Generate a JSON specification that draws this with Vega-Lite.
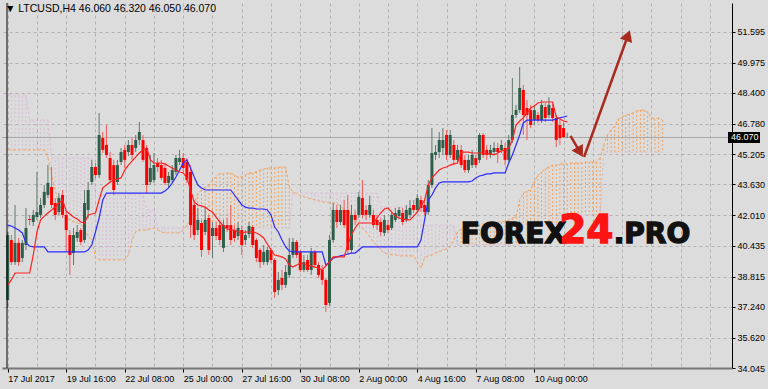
{
"$schema":"https://vega.github.io/schema/vega-lite/v6.json",
"width":730,"height":365,
"autosize":{"type":"none"},
"padding":{"left":2,"top":3,"right":36,"bottom":21},
"background":"#dcdcdc",
"config":{"view":{"stroke":null},"font":"Liberation Sans","axis":{"labelFont":"Liberation Sans"}},
"title":{"text":"▼ LTCUSD,H4 46.060 46.320 46.050 46.070","anchor":"start","frame":"group","offset":-12,"fontSize":10.5,"fontWeight":"normal","color":"#000","dx":3,"font":"Liberation Sans"},
"datasets":{"one":[{}],"bars":[
{"t":0,"o":37.59,"h":41.14,"l":37.17,"c":40.98,"tk":38.38,"kj":41.50,"a":45.42,"b":48.29},
{"t":1,"o":40.72,"h":40.98,"l":39.42,"c":39.57,"tk":38.64,"kj":41.45,"a":45.42,"b":48.29},
{"t":2,"o":39.57,"h":42.55,"l":39.42,"c":40.57,"tk":39.00,"kj":41.35,"a":45.42,"b":48.29},
{"t":3,"o":40.57,"h":40.83,"l":39.37,"c":39.57,"tk":39.00,"kj":41.24,"a":45.42,"b":48.29},
{"t":4,"o":39.78,"h":40.72,"l":39.57,"c":40.57,"tk":39.00,"kj":41.09,"a":45.42,"b":48.29},
{"t":5,"o":40.46,"h":42.39,"l":40.20,"c":41.35,"tk":39.00,"kj":40.57,"a":45.42,"b":48.29},
{"t":6,"o":41.82,"h":42.03,"l":41.50,"c":41.77,"tk":39.00,"kj":40.41,"a":45.42,"b":46.98},
{"t":7,"o":41.66,"h":42.29,"l":41.45,"c":42.03,"tk":39.94,"kj":40.36,"a":45.42,"b":46.98},
{"t":8,"o":41.92,"h":44.27,"l":41.77,"c":42.18,"tk":41.14,"kj":40.36,"a":45.42,"b":46.98},
{"t":9,"o":42.03,"h":42.91,"l":41.87,"c":42.55,"tk":41.77,"kj":40.36,"a":45.42,"b":46.98},
{"t":10,"o":42.55,"h":43.59,"l":42.39,"c":43.23,"tk":41.97,"kj":40.36,"a":45.42,"b":46.98},
{"t":11,"o":43.07,"h":44.63,"l":42.91,"c":43.70,"tk":42.13,"kj":40.10,"a":45.00,"b":46.98},
{"t":12,"o":43.49,"h":44.53,"l":42.39,"c":42.55,"tk":42.29,"kj":40.10,"a":44.11,"b":45.00},
{"t":13,"o":42.65,"h":42.91,"l":41.77,"c":42.03,"tk":42.44,"kj":40.10,"a":43.33,"b":45.00},
{"t":14,"o":42.18,"h":43.17,"l":42.03,"c":42.91,"tk":42.65,"kj":40.10,"a":42.55,"b":45.00},
{"t":15,"o":43.07,"h":43.33,"l":41.87,"c":42.03,"tk":42.81,"kj":40.10,"a":42.18,"b":45.00},
{"t":16,"o":42.03,"h":42.18,"l":40.10,"c":41.24,"tk":42.23,"kj":40.10,"a":41.92,"b":45.00},
{"t":17,"o":40.98,"h":41.24,"l":38.90,"c":39.94,"tk":42.08,"kj":40.10,"a":41.77,"b":45.00},
{"t":18,"o":40.04,"h":41.35,"l":39.42,"c":40.98,"tk":41.92,"kj":40.10,"a":41.66,"b":45.00},
{"t":19,"o":40.83,"h":41.50,"l":40.62,"c":41.14,"tk":41.82,"kj":40.10,"a":41.61,"b":45.00},
{"t":20,"o":41.24,"h":41.35,"l":40.46,"c":40.62,"tk":41.66,"kj":40.10,"a":41.56,"b":45.00},
{"t":21,"o":40.72,"h":43.33,"l":40.57,"c":42.65,"tk":41.61,"kj":40.10,"a":41.24,"b":45.00},
{"t":22,"o":42.29,"h":43.75,"l":41.87,"c":43.33,"tk":42.03,"kj":40.20,"a":40.93,"b":45.00},
{"t":23,"o":43.75,"h":44.90,"l":43.59,"c":44.53,"tk":42.08,"kj":40.46,"a":40.72,"b":45.00},
{"t":24,"o":44.53,"h":44.74,"l":43.96,"c":44.11,"tk":42.13,"kj":41.14,"a":39.78,"b":43.07},
{"t":25,"o":44.11,"h":47.35,"l":43.96,"c":46.20,"tk":42.81,"kj":41.87,"a":39.68,"b":43.07},
{"t":26,"o":46.04,"h":46.36,"l":45.26,"c":45.42,"tk":43.44,"kj":42.81,"a":39.68,"b":43.07},
{"t":27,"o":45.68,"h":46.72,"l":45.00,"c":45.16,"tk":43.59,"kj":43.17,"a":39.68,"b":43.07},
{"t":28,"o":45.00,"h":45.31,"l":43.70,"c":43.85,"tk":43.75,"kj":43.17,"a":39.68,"b":43.07},
{"t":29,"o":44.63,"h":44.90,"l":43.07,"c":43.33,"tk":43.85,"kj":43.17,"a":39.68,"b":43.07},
{"t":30,"o":43.75,"h":44.90,"l":43.59,"c":44.63,"tk":43.90,"kj":43.17,"a":39.68,"b":43.07},
{"t":31,"o":44.79,"h":45.52,"l":44.63,"c":45.31,"tk":43.96,"kj":43.17,"a":39.68,"b":43.07},
{"t":32,"o":45.42,"h":45.68,"l":44.48,"c":44.90,"tk":44.37,"kj":43.17,"a":39.68,"b":43.07},
{"t":33,"o":45.31,"h":45.94,"l":45.10,"c":45.68,"tk":44.63,"kj":43.17,"a":39.94,"b":43.07},
{"t":34,"o":45.68,"h":46.04,"l":44.90,"c":45.16,"tk":44.84,"kj":43.17,"a":40.72,"b":43.07},
{"t":35,"o":45.52,"h":46.20,"l":45.31,"c":45.94,"tk":45.05,"kj":43.17,"a":41.14,"b":43.07},
{"t":36,"o":45.94,"h":46.88,"l":45.68,"c":46.36,"tk":45.26,"kj":43.17,"a":41.24,"b":43.07},
{"t":37,"o":45.94,"h":46.20,"l":44.79,"c":44.90,"tk":45.42,"kj":43.17,"a":41.24,"b":43.07},
{"t":38,"o":45.52,"h":45.68,"l":43.17,"c":43.59,"tk":45.52,"kj":43.17,"a":41.24,"b":42.29},
{"t":39,"o":43.75,"h":45.16,"l":43.59,"c":44.48,"tk":44.90,"kj":43.17,"a":41.30,"b":42.29},
{"t":40,"o":43.85,"h":45.26,"l":43.70,"c":44.63,"tk":44.74,"kj":43.17,"a":41.35,"b":42.29},
{"t":41,"o":44.74,"h":45.00,"l":44.27,"c":44.53,"tk":44.74,"kj":43.17,"a":41.24,"b":41.35},
{"t":42,"o":44.63,"h":44.90,"l":43.85,"c":43.96,"tk":44.74,"kj":43.17,"a":41.14,"b":41.35},
{"t":43,"o":44.48,"h":44.74,"l":43.59,"c":43.70,"tk":44.69,"kj":43.28,"a":41.09,"b":41.35},
{"t":44,"o":43.70,"h":44.27,"l":43.44,"c":44.06,"tk":44.58,"kj":43.44,"a":41.09,"b":41.35},
{"t":45,"o":43.85,"h":44.63,"l":43.75,"c":44.37,"tk":44.48,"kj":43.70,"a":41.09,"b":41.35},
{"t":46,"o":44.27,"h":45.16,"l":44.11,"c":45.00,"tk":44.37,"kj":44.01,"a":41.09,"b":41.35},
{"t":47,"o":44.79,"h":45.42,"l":44.63,"c":45.00,"tk":44.27,"kj":44.37,"a":41.09,"b":41.35},
{"t":48,"o":45.00,"h":45.26,"l":44.27,"c":44.48,"tk":44.22,"kj":44.74,"a":41.24,"b":41.35},
{"t":49,"o":44.79,"h":45.00,"l":43.70,"c":43.85,"tk":43.96,"kj":44.90,"a":41.50,"b":41.35},
{"t":50,"o":44.27,"h":44.63,"l":40.83,"c":41.50,"tk":43.33,"kj":44.48,"a":41.77,"b":41.35},
{"t":51,"o":42.55,"h":42.81,"l":40.72,"c":40.98,"tk":42.70,"kj":44.01,"a":42.55,"b":41.35},
{"t":52,"o":41.24,"h":42.39,"l":40.98,"c":41.77,"tk":42.55,"kj":43.59,"a":43.17,"b":41.35},
{"t":53,"o":41.61,"h":41.77,"l":39.84,"c":40.20,"tk":42.50,"kj":43.44,"a":43.33,"b":41.35},
{"t":54,"o":41.14,"h":42.44,"l":40.98,"c":41.77,"tk":42.44,"kj":43.33,"a":43.49,"b":41.35},
{"t":55,"o":41.87,"h":42.03,"l":39.94,"c":40.20,"tk":42.29,"kj":43.33,"a":43.59,"b":41.35},
{"t":56,"o":40.93,"h":41.66,"l":39.78,"c":41.35,"tk":42.18,"kj":43.33,"a":43.85,"b":41.35},
{"t":57,"o":41.35,"h":41.66,"l":40.72,"c":40.93,"tk":41.92,"kj":43.33,"a":44.01,"b":41.35},
{"t":58,"o":41.50,"h":41.77,"l":40.46,"c":40.72,"tk":41.66,"kj":43.33,"a":44.22,"b":41.35},
{"t":59,"o":40.31,"h":41.77,"l":40.10,"c":41.50,"tk":41.45,"kj":43.33,"a":44.17,"b":41.35},
{"t":60,"o":41.50,"h":41.87,"l":41.14,"c":41.35,"tk":41.30,"kj":43.33,"a":44.22,"b":41.35},
{"t":61,"o":41.50,"h":42.55,"l":40.46,"c":40.72,"tk":41.24,"kj":43.33,"a":44.22,"b":41.35},
{"t":62,"o":41.24,"h":41.50,"l":40.62,"c":40.83,"tk":41.24,"kj":43.07,"a":44.11,"b":41.35},
{"t":63,"o":40.93,"h":41.66,"l":40.72,"c":41.35,"tk":41.14,"kj":42.81,"a":44.01,"b":41.35},
{"t":64,"o":41.24,"h":41.45,"l":39.94,"c":40.46,"tk":41.09,"kj":42.55,"a":44.01,"b":41.35},
{"t":65,"o":40.72,"h":41.24,"l":40.46,"c":40.98,"tk":41.14,"kj":42.44,"a":44.11,"b":41.35},
{"t":66,"o":41.03,"h":41.66,"l":40.83,"c":41.45,"tk":41.14,"kj":42.39,"a":44.22,"b":41.35},
{"t":67,"o":41.40,"h":41.50,"l":40.31,"c":40.46,"tk":41.14,"kj":42.39,"a":44.22,"b":41.35},
{"t":68,"o":40.72,"h":40.83,"l":39.57,"c":39.78,"tk":41.09,"kj":42.34,"a":44.27,"b":41.35},
{"t":69,"o":40.20,"h":40.31,"l":39.26,"c":39.57,"tk":40.98,"kj":42.34,"a":44.37,"b":41.35},
{"t":70,"o":39.57,"h":40.46,"l":39.42,"c":40.10,"tk":40.83,"kj":42.34,"a":44.43,"b":41.35},
{"t":71,"o":39.57,"h":40.36,"l":39.42,"c":40.20,"tk":40.51,"kj":42.29,"a":44.48,"b":41.35},
{"t":72,"o":40.20,"h":40.31,"l":39.52,"c":39.68,"tk":40.20,"kj":42.03,"a":44.48,"b":41.35},
{"t":73,"o":39.68,"h":39.78,"l":37.70,"c":38.01,"tk":39.94,"kj":41.40,"a":44.48,"b":41.35},
{"t":74,"o":38.11,"h":39.05,"l":37.85,"c":38.64,"tk":39.89,"kj":41.14,"a":44.53,"b":41.35},
{"t":75,"o":38.74,"h":39.16,"l":38.11,"c":38.38,"tk":39.84,"kj":40.72,"a":44.53,"b":41.35},
{"t":76,"o":38.38,"h":39.42,"l":38.22,"c":39.05,"tk":39.73,"kj":40.36,"a":44.53,"b":41.35},
{"t":77,"o":38.90,"h":40.83,"l":38.74,"c":39.94,"tk":39.42,"kj":40.15,"a":43.49,"b":41.35},
{"t":78,"o":39.94,"h":40.83,"l":39.78,"c":40.62,"tk":39.31,"kj":40.10,"a":43.23,"b":43.17},
{"t":79,"o":40.62,"h":40.72,"l":39.78,"c":39.94,"tk":39.42,"kj":40.10,"a":43.12,"b":43.17},
{"t":80,"o":40.10,"h":40.20,"l":39.05,"c":39.16,"tk":39.52,"kj":40.10,"a":43.02,"b":43.17},
{"t":81,"o":39.16,"h":39.94,"l":39.05,"c":39.57,"tk":39.47,"kj":40.10,"a":42.97,"b":43.17},
{"t":82,"o":39.68,"h":39.94,"l":39.05,"c":39.16,"tk":39.42,"kj":40.10,"a":42.91,"b":43.17},
{"t":83,"o":39.16,"h":40.31,"l":38.90,"c":40.10,"tk":39.37,"kj":40.10,"a":42.86,"b":43.17},
{"t":84,"o":40.10,"h":40.20,"l":39.26,"c":39.42,"tk":39.31,"kj":40.10,"a":42.81,"b":43.17},
{"t":85,"o":39.42,"h":39.57,"l":38.74,"c":38.90,"tk":39.26,"kj":40.10,"a":42.76,"b":43.17},
{"t":86,"o":39.16,"h":39.42,"l":38.38,"c":38.64,"tk":39.16,"kj":40.10,"a":42.70,"b":43.17},
{"t":87,"o":38.64,"h":38.74,"l":36.97,"c":37.33,"tk":39.37,"kj":39.42,"a":42.70,"b":43.17},
{"t":88,"o":37.44,"h":40.98,"l":37.28,"c":40.72,"tk":39.57,"kj":39.57,"a":42.65,"b":43.17},
{"t":89,"o":40.72,"h":42.65,"l":40.57,"c":42.29,"tk":39.84,"kj":39.78,"a":42.65,"b":43.17},
{"t":90,"o":42.29,"h":42.55,"l":41.35,"c":41.66,"tk":39.84,"kj":39.84,"a":42.60,"b":43.17},
{"t":91,"o":41.66,"h":42.55,"l":41.50,"c":42.29,"tk":39.84,"kj":39.89,"a":42.50,"b":43.17},
{"t":92,"o":42.29,"h":42.81,"l":41.35,"c":41.50,"tk":39.84,"kj":39.94,"a":42.29,"b":43.17},
{"t":93,"o":42.29,"h":43.07,"l":39.94,"c":40.20,"tk":40.46,"kj":39.99,"a":42.18,"b":43.17},
{"t":94,"o":40.20,"h":42.55,"l":40.04,"c":42.03,"tk":40.98,"kj":40.04,"a":42.08,"b":43.17},
{"t":95,"o":42.03,"h":42.29,"l":41.50,"c":41.77,"tk":41.35,"kj":40.04,"a":41.87,"b":43.17},
{"t":96,"o":42.03,"h":43.23,"l":41.87,"c":42.97,"tk":41.61,"kj":40.20,"a":41.50,"b":43.17},
{"t":97,"o":42.91,"h":43.85,"l":41.87,"c":42.03,"tk":41.61,"kj":40.36,"a":41.35,"b":43.17},
{"t":98,"o":42.29,"h":42.55,"l":41.77,"c":42.03,"tk":41.61,"kj":40.36,"a":41.14,"b":43.17},
{"t":99,"o":42.03,"h":43.02,"l":41.87,"c":42.55,"tk":41.61,"kj":40.36,"a":40.88,"b":43.17},
{"t":100,"o":42.03,"h":42.29,"l":41.35,"c":41.50,"tk":41.61,"kj":40.36,"a":40.62,"b":43.17},
{"t":101,"o":41.77,"h":42.03,"l":41.24,"c":41.50,"tk":41.87,"kj":40.36,"a":40.41,"b":43.17},
{"t":102,"o":41.66,"h":41.87,"l":40.93,"c":41.14,"tk":42.13,"kj":40.36,"a":40.20,"b":42.44},
{"t":103,"o":41.09,"h":42.03,"l":40.93,"c":41.77,"tk":42.34,"kj":40.36,"a":40.04,"b":42.44},
{"t":104,"o":41.50,"h":41.77,"l":41.09,"c":41.24,"tk":42.39,"kj":40.36,"a":39.99,"b":42.44},
{"t":105,"o":41.35,"h":42.18,"l":41.24,"c":42.03,"tk":42.18,"kj":40.36,"a":39.94,"b":42.44},
{"t":106,"o":41.77,"h":42.39,"l":41.66,"c":42.13,"tk":41.97,"kj":40.36,"a":39.94,"b":42.44},
{"t":107,"o":41.97,"h":42.44,"l":41.82,"c":42.29,"tk":41.87,"kj":40.36,"a":39.89,"b":42.44},
{"t":108,"o":42.13,"h":42.39,"l":41.50,"c":41.66,"tk":41.82,"kj":40.36,"a":39.89,"b":42.44},
{"t":109,"o":41.77,"h":42.55,"l":41.66,"c":42.29,"tk":41.77,"kj":40.36,"a":39.89,"b":42.44},
{"t":110,"o":42.03,"h":42.81,"l":41.87,"c":42.39,"tk":41.77,"kj":40.36,"a":39.89,"b":42.44},
{"t":111,"o":42.55,"h":42.81,"l":42.13,"c":42.29,"tk":41.97,"kj":40.36,"a":39.89,"b":42.44},
{"t":112,"o":42.29,"h":43.12,"l":42.13,"c":42.91,"tk":42.18,"kj":40.36,"a":39.57,"b":42.44},
{"t":113,"o":42.81,"h":43.02,"l":42.18,"c":42.39,"tk":42.50,"kj":40.72,"a":39.26,"b":41.50},
{"t":114,"o":42.55,"h":42.81,"l":42.03,"c":42.18,"tk":42.81,"kj":41.77,"a":39.78,"b":41.50},
{"t":115,"o":42.18,"h":43.85,"l":42.03,"c":43.59,"tk":43.59,"kj":42.81,"a":39.89,"b":41.50},
{"t":116,"o":43.59,"h":46.56,"l":43.44,"c":45.26,"tk":43.96,"kj":43.07,"a":39.94,"b":41.50},
{"t":117,"o":45.16,"h":45.68,"l":44.90,"c":45.31,"tk":44.17,"kj":43.44,"a":40.04,"b":41.50},
{"t":118,"o":45.31,"h":46.36,"l":45.00,"c":45.94,"tk":44.37,"kj":43.70,"a":40.10,"b":41.50},
{"t":119,"o":45.52,"h":46.56,"l":45.16,"c":45.94,"tk":44.48,"kj":43.75,"a":40.20,"b":41.50},
{"t":120,"o":46.20,"h":46.46,"l":44.90,"c":45.16,"tk":44.53,"kj":43.75,"a":40.25,"b":41.50},
{"t":121,"o":45.16,"h":46.46,"l":45.00,"c":46.20,"tk":44.63,"kj":43.75,"a":40.36,"b":41.50},
{"t":122,"o":45.68,"h":45.94,"l":44.63,"c":44.90,"tk":44.69,"kj":43.75,"a":40.72,"b":41.50},
{"t":123,"o":44.90,"h":45.68,"l":44.74,"c":45.42,"tk":44.74,"kj":43.75,"a":41.14,"b":40.46},
{"t":124,"o":45.42,"h":45.68,"l":44.48,"c":44.63,"tk":45.31,"kj":43.75,"a":41.30,"b":40.46},
{"t":125,"o":44.90,"h":45.16,"l":44.22,"c":44.37,"tk":45.31,"kj":43.75,"a":41.35,"b":40.46},
{"t":126,"o":44.37,"h":45.16,"l":44.22,"c":44.90,"tk":45.31,"kj":43.75,"a":41.40,"b":40.46},
{"t":127,"o":44.63,"h":45.42,"l":44.48,"c":45.16,"tk":45.26,"kj":43.80,"a":41.45,"b":40.46},
{"t":128,"o":45.00,"h":45.16,"l":44.48,"c":44.63,"tk":45.26,"kj":43.96,"a":41.45,"b":40.46},
{"t":129,"o":44.90,"h":46.30,"l":44.74,"c":46.20,"tk":45.26,"kj":44.06,"a":41.50,"b":40.46},
{"t":130,"o":46.20,"h":46.30,"l":45.00,"c":45.16,"tk":45.26,"kj":44.11,"a":41.56,"b":40.46},
{"t":131,"o":45.42,"h":45.68,"l":44.90,"c":45.16,"tk":45.21,"kj":44.17,"a":41.56,"b":40.46},
{"t":132,"o":45.16,"h":45.68,"l":45.00,"c":45.42,"tk":45.21,"kj":44.17,"a":41.61,"b":40.46},
{"t":133,"o":45.31,"h":45.83,"l":45.16,"c":45.52,"tk":45.16,"kj":44.22,"a":41.61,"b":40.46},
{"t":134,"o":45.52,"h":45.78,"l":44.74,"c":45.31,"tk":45.26,"kj":44.22,"a":41.66,"b":40.46},
{"t":135,"o":45.42,"h":45.94,"l":45.26,"c":45.68,"tk":45.37,"kj":44.22,"a":41.66,"b":40.46},
{"t":136,"o":45.52,"h":45.78,"l":44.63,"c":44.90,"tk":45.42,"kj":44.22,"a":41.71,"b":40.46},
{"t":137,"o":44.90,"h":46.20,"l":44.79,"c":45.94,"tk":45.52,"kj":44.74,"a":41.77,"b":40.46},
{"t":138,"o":45.94,"h":49.17,"l":45.78,"c":47.24,"tk":45.94,"kj":45.16,"a":41.87,"b":40.46},
{"t":139,"o":47.24,"h":47.77,"l":47.09,"c":47.50,"tk":46.72,"kj":45.68,"a":41.92,"b":40.46},
{"t":140,"o":47.50,"h":49.75,"l":47.35,"c":48.65,"tk":46.93,"kj":46.20,"a":42.81,"b":40.46},
{"t":141,"o":48.55,"h":48.81,"l":46.20,"c":47.24,"tk":47.09,"kj":46.83,"a":43.17,"b":41.50},
{"t":142,"o":47.61,"h":48.03,"l":45.94,"c":47.24,"tk":47.35,"kj":46.98,"a":43.28,"b":41.50},
{"t":143,"o":47.50,"h":47.77,"l":46.56,"c":46.72,"tk":47.61,"kj":46.98,"a":43.33,"b":41.50},
{"t":144,"o":46.98,"h":47.77,"l":46.72,"c":47.50,"tk":47.71,"kj":46.98,"a":43.75,"b":41.50},
{"t":145,"o":47.24,"h":47.40,"l":46.83,"c":46.98,"tk":47.87,"kj":46.98,"a":44.11,"b":41.50},
{"t":146,"o":46.98,"h":48.03,"l":46.83,"c":47.77,"tk":47.92,"kj":46.98,"a":44.27,"b":41.50},
{"t":147,"o":47.66,"h":47.87,"l":46.88,"c":47.09,"tk":47.92,"kj":46.98,"a":44.43,"b":41.50},
{"t":148,"o":47.24,"h":48.18,"l":47.09,"c":47.77,"tk":47.92,"kj":46.98,"a":44.53,"b":41.50},
{"t":149,"o":47.61,"h":47.82,"l":46.88,"c":47.09,"tk":47.92,"kj":46.98,"a":44.63,"b":41.50},
{"t":150,"o":47.09,"h":47.24,"l":45.57,"c":45.94,"tk":47.14,"kj":47.03,"a":44.63,"b":41.50},
{"t":151,"o":46.72,"h":46.98,"l":45.68,"c":46.04,"tk":47.03,"kj":47.09,"a":44.69,"b":42.03},
{"t":152,"o":46.56,"h":46.88,"l":46.04,"c":46.09,"tk":46.93,"kj":47.14,"a":44.69,"b":42.03},
{"t":153,"o":46.06,"h":46.32,"l":46.05,"c":46.07,"tk":46.88,"kj":47.19,"a":44.69,"b":42.03},
{"t":154,"a":44.74,"b":42.03},{"t":155,"a":44.74,"b":42.03},{"t":156,"a":44.74,"b":42.03},{"t":157,"a":44.74,"b":42.03},
{"t":158,"a":44.79,"b":42.03},{"t":159,"a":44.79,"b":42.03},{"t":160,"a":44.79,"b":42.03},{"t":161,"a":44.79,"b":42.03},
{"t":162,"a":45.00,"b":42.03},{"t":163,"a":45.68,"b":45.31},{"t":164,"a":46.20,"b":45.31},{"t":165,"a":46.46,"b":45.31},
{"t":166,"a":46.67,"b":45.31},{"t":167,"a":47.03,"b":45.31},{"t":168,"a":47.14,"b":45.31},{"t":169,"a":47.24,"b":45.31},
{"t":170,"a":47.29,"b":45.31},{"t":171,"a":47.35,"b":45.31},{"t":172,"a":47.45,"b":45.31},{"t":173,"a":47.50,"b":45.31},
{"t":174,"a":47.50,"b":45.31},{"t":175,"a":47.40,"b":45.31},{"t":176,"a":47.09,"b":45.31},{"t":177,"a":47.03,"b":45.31},
{"t":178,"a":47.09,"b":45.31},{"t":179,"a":46.98,"b":45.31}
]},
"layer":[
{"data":{"name":"bars"},"transform":[{"filter":"datum.a < datum.b"}],
 "mark":{"type":"rule","color":"#d8bfd8","strokeDash":[2,2],"strokeWidth":1},
 "encoding":{
  "x":{"field":"t","type":"quantitative","scale":{"domain":[-0.19,196.69],"nice":false,"zero":false},
   "axis":{"orient":"bottom","title":null,"tickCount":100,"values":[0,8,16,24,32,40,48,56,64,72,80,88,96,104,112,120,128,136,144,152,160,168,176,184,192],
    "labelExpr":"datum.value % 16 == 0 && datum.value <= 144 ? ['17 Jul 2017','19 Jul 16:00','22 Jul 08:00','25 Jul 00:00','27 Jul 16:00','30 Jul 08:00','2 Aug 00:00','4 Aug 16:00','7 Aug 08:00','10 Aug 00:00'][datum.value/16] : ''",
    "labelAlign":"left","labelBaseline":"top","labelPadding":2,"labelFontSize":9,"labelColor":"#000","labelFlush":false,"labelOverlap":false,"labelBound":false,
    "tickSize":4,"tickColor":"#000","tickOpacity":{"condition":{"test":"datum.value % 16 == 0 && datum.value <= 144","value":1},"value":0},
    "domainColor":"#777777","domainWidth":2,"grid":true,"gridColor":"#b2b2b2","gridDash":[3,3],"gridWidth":1}},
  "y":{"field":"a","type":"quantitative","scale":{"domain":[34.045,53.085],"nice":false,"zero":false},
   "axis":{"orient":"right","title":null,"tickCount":100,"values":[34.045,35.62,37.24,38.815,40.435,42.01,43.63,45.205,46.78,48.4,49.975,51.595],"format":".3f",
    "labelFontSize":9,"labelColor":"#000","labelPadding":2,"labelBaseline":"middle","labelFlush":false,"labelOverlap":false,"labelBound":false,
    "tickSize":3,"tickColor":"#000","domainColor":"#000","domainWidth":1,"grid":true,"gridColor":"#b2b2b2","gridDash":[3,3],"gridWidth":1}},
  "y2":{"field":"b"}}},
{"data":{"name":"bars"},"transform":[{"filter":"datum.a >= datum.b"}],
 "mark":{"type":"rule","color":"#f4a460","strokeDash":[2,2],"strokeWidth":1},
 "encoding":{"x":{"field":"t","type":"quantitative"},"y":{"field":"a","type":"quantitative"},"y2":{"field":"b"}}},
{"data":{"name":"bars"},"mark":{"type":"line","color":"#f4a460","strokeDash":[3,2],"strokeWidth":1},
 "encoding":{"x":{"field":"t","type":"quantitative"},"y":{"field":"a","type":"quantitative"}}},
{"data":{"name":"bars"},"mark":{"type":"line","color":"#d8bfd8","strokeDash":[3,2],"strokeWidth":1},
 "encoding":{"x":{"field":"t","type":"quantitative"},"y":{"field":"b","type":"quantitative"}}},
{"data":{"name":"one"},"mark":{"type":"rule","color":"#a9a9a9","strokeWidth":1},"encoding":{"y":{"datum":46.07,"type":"quantitative"}}},
{"data":{"name":"bars"},"transform":[{"filter":"isValid(datum.o)"}],
 "mark":{"type":"rule","strokeWidth":1},
 "encoding":{"x":{"field":"t","type":"quantitative"},"y":{"field":"l","type":"quantitative"},"y2":{"field":"h"},
  "color":{"condition":{"test":"datum.c >= datum.o","value":"#5f7a6d"},"value":"#f25a5a"}}},
{"data":{"name":"bars"},"transform":[{"filter":"isValid(datum.o)"}],
 "mark":{"type":"bar","width":3},
 "encoding":{"x":{"field":"t","type":"quantitative"},"y":{"field":"o","type":"quantitative"},"y2":{"field":"c"},
  "color":{"condition":{"test":"datum.c >= datum.o","value":"#2f5f4a"},"value":"#ff0000"}}},
{"data":{"name":"bars"},"mark":{"type":"line","color":"#2b2bff","strokeWidth":1.2},
 "encoding":{"x":{"field":"t","type":"quantitative"},"y":{"field":"kj","type":"quantitative"}}},
{"data":{"name":"bars"},"mark":{"type":"line","color":"#ff2020","strokeWidth":1.2},
 "encoding":{"x":{"field":"t","type":"quantitative"},"y":{"field":"tk","type":"quantitative"}}},
{"data":{"name":"one"},"mark":{"type":"rule","color":"#000","strokeWidth":1},"encoding":{"x":{"datum":-0.19,"type":"quantitative"}}},
{"data":{"name":"one"},"mark":{"type":"point","shape":"M0.1,-0.55L3.3,-0.55L3.3,0.55L0.1,0.55Z","filled":true,"color":"#000","opacity":1,"size":400,"strokeWidth":0},
 "encoding":{"x":{"datum":196.69,"type":"quantitative"},"y":{"datum":46.07,"type":"quantitative"}}},
{"data":{"name":"one"},"mark":{"type":"text","text":"46.070","align":"left","baseline":"middle","dx":4,"color":"#ffffff","fontSize":9},
 "encoding":{"x":{"datum":196.69,"type":"quantitative"},"y":{"datum":46.07,"type":"quantitative"}}},
{"data":{"name":"one"},"mark":{"type":"text","text":"FOREX","align":"left","baseline":"alphabetic","font":"DejaVu Sans","fontWeight":"bold","fontSize":28,"color":"#111111","stroke":"#111111","strokeWidth":1.4},
 "encoding":{"x":{"datum":123.9,"type":"quantitative"},"y":{"datum":40.57,"type":"quantitative"}}},
{"data":{"name":"one"},"mark":{"type":"text","text":"24","align":"left","baseline":"alphabetic","font":"DejaVu Sans","fontWeight":"bold","fontSize":39,"color":"#ff1414","stroke":"#ff1414","strokeWidth":1.4},
 "encoding":{"x":{"datum":150.8,"type":"quantitative"},"y":{"datum":40.57,"type":"quantitative"}}},
{"data":{"name":"one"},"mark":{"type":"text","text":".PRO","align":"left","baseline":"alphabetic","font":"DejaVu Sans","fontWeight":"bold","fontSize":28,"color":"#111111","stroke":"#111111","strokeWidth":1.4},
 "encoding":{"x":{"datum":165.7,"type":"quantitative"},"y":{"datum":40.57,"type":"quantitative"}}},
{"data":{"name":"one"},"mark":{"type":"rule","color":"#a92b20","strokeWidth":2.5},
 "encoding":{"x":{"datum":157.6,"type":"quantitative"},"y":{"datum":45.05,"type":"quantitative"},"x2":{"datum":169.6},"y2":{"datum":51.39}}},
{"data":{"name":"one"},"mark":{"type":"rule","color":"#a92b20","strokeWidth":2.5},
 "encoding":{"x":{"datum":153.9,"type":"quantitative"},"y":{"datum":46.15,"type":"quantitative"},"x2":{"datum":156.5},"y2":{"datum":45.31}}},
{"data":{"name":"one"},"mark":{"type":"point","shape":"triangle-up","angle":20,"size":170,"filled":true,"color":"#a92b20","opacity":1,"strokeWidth":0},
 "encoding":{"x":{"datum":169.6,"type":"quantitative"},"y":{"datum":51.39,"type":"quantitative"}}},
{"data":{"name":"one"},"mark":{"type":"point","shape":"triangle-up","angle":150,"size":170,"filled":true,"color":"#a92b20","opacity":1,"strokeWidth":0},
 "encoding":{"x":{"datum":156.5,"type":"quantitative"},"y":{"datum":45.31,"type":"quantitative"}}}
]
}
